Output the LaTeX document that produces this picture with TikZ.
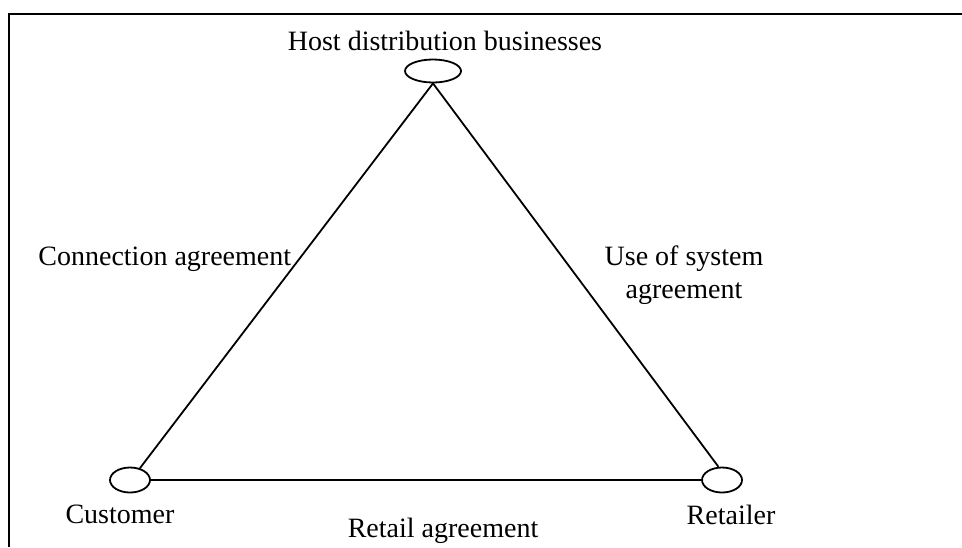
\documentclass[tikz,border=0pt]{standalone}
\usepackage{fontspec}
\setmainfont{Liberation Serif}
\usetikzlibrary{shapes.geometric}
\tikzset{>=stealth}

\begin{document}
\begin{tikzpicture}[x=0.5pt, y=-0.5pt,
    party/.style={ellipse, draw, line width=0.9pt, inner sep=0pt,
        minimum width=20pt, minimum height=12.5pt},
    lbl/.style={inner sep=0pt, font=\fontsize{14}{16.5}\selectfont}]
    \useasboundingbox (0,0) rectangle (962,547);
    % frame
    \draw[line width=1.1pt] (9,547) |- (962,14);
    % parties
    \node[party, minimum width=28pt, minimum height=11.5pt] (host) at (433,71) {};
    \node[party] (cust) at (130,480) {};
    \node[party] (ret) at (722,480) {};
    % agreements
    \draw[line width=0.9pt] (host.south) -- (cust.50);
    \draw[line width=0.9pt] (host.south) -- (ret.105);
    \draw[line width=0.9pt] (cust.east) -- (ret.west);
    % labels
    \node[lbl, anchor=base] (hostlbl) at (445,50) {Host distribution businesses};
    \node[lbl, anchor=base] (custlbl) at (120,523) {Customer};
    \node[lbl, anchor=base] (retlbl) at (731,524) {Retailer};
    \node[lbl, anchor=base west] (conn) at (38,265) {Connection agreement};
    \node[lbl, align=center] (uos) at (684,275) {Use of system\\agreement};
    \node[lbl, anchor=base] (retail) at (443,537) {Retail agreement};
\end{tikzpicture}
\end{document}
